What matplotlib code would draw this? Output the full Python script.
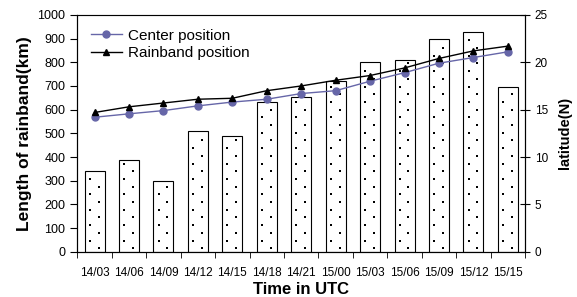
import numpy as np
import matplotlib.pyplot as plt

plt.rcParams['font.family'] = ['Liberation Sans', 'DejaVu Sans']

times = ['14/03', '14/06', '14/09', '14/12', '14/15', '14/18', '14/21',
         '15/00', '15/03', '15/06', '15/09', '15/12', '15/15']
length_km = [343, 388, 297, 508, 487, 633, 654, 720, 802, 810, 899, 928, 696]
center_lat = [14.2, 14.56, 14.9, 15.4, 15.8, 16.1, 16.7, 17.0, 18.0, 18.9, 19.9, 20.5, 21.1]
rainband_lat = [14.7, 15.3, 15.7, 16.1, 16.2, 17.0, 17.5, 18.1, 18.6, 19.4, 20.4, 21.2, 21.7]

x = np.arange(len(times))
bar_w = 0.58

fig, ax = plt.subplots(figsize=(5.77, 2.97), dpi=100)
fig.subplots_adjust(left=0.134, right=0.91, top=0.95, bottom=0.152)

ax.bar(x, length_km, width=bar_w, facecolor='white', edgecolor='black',
       linewidth=0.8, zorder=2)

# sparse dotted fill, staggered in two columns
dx, dy = [], []
for xi, h in zip(x, length_km):
    ys = np.arange(15, h - 8, 32.5)
    for k, yv in enumerate(ys):
        dx.append(xi + (0.115 if k % 2 == 0 else -0.14))
        dy.append(yv)
ax.scatter(dx, dy, s=1.2, color='black', marker='s', linewidths=0, zorder=3)

ax.set_xlim(-0.5, len(times) - 0.5)
ax.set_ylim(0, 1000)
ax.set_yticks(np.arange(0, 1001, 100))
ax.set_xticks(x)
ax.set_xticklabels(times)
ax.set_xticks(np.arange(-0.5, len(times), 1), minor=True)
ax.tick_params(axis='x', which='major', length=0, labelsize=8.5, pad=11)
ax.tick_params(axis='x', which='minor', length=4, direction='out')
ax.tick_params(axis='y', labelsize=9, length=5, direction='out')
ax.set_ylabel('Length of rainband(km)', fontsize=12.5, fontweight='bold',
              labelpad=4)
ax.set_xlabel('Time in UTC', fontsize=12, fontweight='bold', labelpad=2)

ax2 = ax.twinx()
ax2.plot(x, center_lat, color='#6666a8', marker='o', markersize=5,
         linewidth=1, label='Center position')
ax2.plot(x, rainband_lat, color='black', marker='^', markersize=5,
         linewidth=1, label='Rainband position')
ax2.set_ylim(0, 25)
ax2.set_yticks(np.arange(0, 26, 5))
ax2.tick_params(axis='y', labelsize=8.5, length=7, direction='inout')
ax2.set_ylabel('latitude(N)', fontsize=10.5, fontweight='bold', labelpad=7)

for a in (ax, ax2):
    for s in a.spines.values():
        s.set_linewidth(0.8)
ax.spines['top'].set_color('#888888')

ax2.legend(loc='upper left', frameon=False, fontsize=11, handlelength=2,
           borderaxespad=0.5, labelspacing=0.25, handletextpad=0.4)

fig.savefig('out.png', dpi=100)
